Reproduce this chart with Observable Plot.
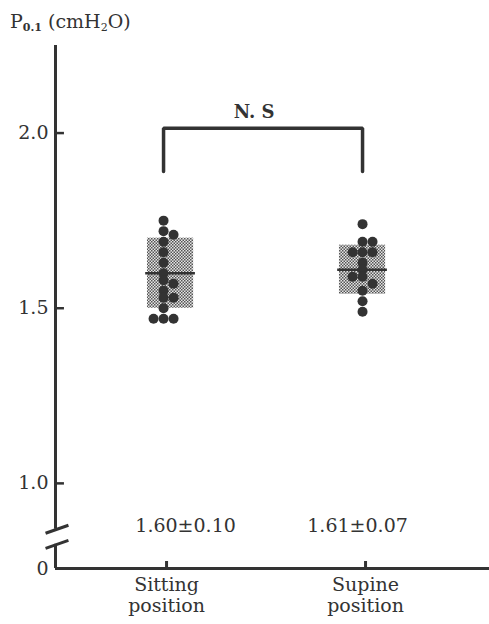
<!DOCTYPE html>
<html>
<head>
<meta charset="utf-8">
<script src="https://cdn.jsdelivr.net/npm/d3@7"></script>
<script src="https://cdn.jsdelivr.net/npm/@observablehq/plot@0.6"></script>
<style>
  html, body { margin: 0; padding: 0; background: white; }
  #wrap { position: relative; width: 489px; height: 624px; }
  #title { position: absolute; left: 10px; top: 12px; font-family: "DejaVu Serif", serif; font-size: 19px; line-height: 1; color: #333; white-space: nowrap; }
  #title .sub { font-size: 11px; vertical-align: -3px; }
  #chart { position: absolute; left: 0; top: 40px; }
</style>
</head>
<body>
<div id="wrap">
  <div id="title">P<span class="sub" style="font-weight:bold">0.1</span> (cmH<span class="sub">2</span>O)</div>
  <div id="chart"></div>
</div>
<script>
// ---- data ----
const categories = ["Sitting\nposition", "Supine\nposition"];
const means = [1.60, 1.61];
const sds = [0.10, 0.07];

const sittingValues = [1.75, 1.72, 1.71, 1.69, 1.66, 1.63, 1.60, 1.58, 1.57, 1.55, 1.53, 1.53, 1.50, 1.47, 1.47, 1.47];
const sittingCols   = [0,    0,    1,    0,    0,    0,    0,    0,    1,    0,    0,    1,    0,    0,    1,    -1];
const supineValues  = [1.74, 1.69, 1.69, 1.66, 1.66, 1.66, 1.63, 1.61, 1.59, 1.59, 1.57, 1.55, 1.52, 1.49];
const supineCols    = [0,    0,    1,    -1,   0,    1,    0,    0,    -1,   0,    1,    0,    0,    0];

const yTicks = [1.0, 1.5, 2.0];
const yZero = 0.757;          // where the broken axis shows "0"
const yTop = 2.25;
const breakSlashes = [0.869, 0.826];
const bracket = {low: 1.89, high: 2.014, label: "N. S", labelY: 2.06};
const statsY = 0.88;

// ---- tables ----
const groups = categories.map((c, i) => ({i, mean: means[i], sd: sds[i], label: `${means[i].toFixed(2)}±${sds[i].toFixed(2)}`}));
const dots = [
  ...sittingValues.map((v, k) => ({g: 0, v, col: sittingCols[k]})),
  ...supineValues.map((v, k) => ({g: 1, v, col: supineCols[k]}))
];
const bracketPts = [
  {x: 0, y: bracket.low}, {x: 0, y: bracket.high},
  {x: 1, y: bracket.high}, {x: 1, y: bracket.low}
];

const xMin = -0.543, xMax = 1.638;
const boxHalf = 0.116, meanHalf = 0.125;
const boxShift = [7, 0];
const ink = "#333";

const boxMarks = groups.flatMap((g, k) => [
  Plot.rect([g], {x1: d => d.i - boxHalf, x2: d => d.i + boxHalf, y1: d => d.mean - d.sd, y2: d => d.mean + d.sd, fill: "url(#stipple)", dx: boxShift[k]}),
  Plot.ruleY([g], {y: "mean", x1: d => d.i - meanHalf, x2: d => d.i + meanHalf, stroke: ink, strokeWidth: 2.5, dx: boxShift[k]})
]);

const plot = Plot.plot({
  width: 489,
  height: 584,
  marginTop: 5,
  marginLeft: 55,
  marginRight: 0,
  marginBottom: 56,
  x: {type: "linear", domain: [xMin, xMax]},
  y: {domain: [yZero, yTop]},
  style: {fontFamily: "DejaVu Serif, serif", color: ink, background: "white", overflow: "visible"},
  marks: [
    // SD boxes and mean lines
    ...boxMarks,
    // individual points
    ...[-1, 0, 1].map(c => Plot.dot(dots.filter(d => d.col === c), {x: "g", y: "v", r: 5, fill: ink, stroke: "none", dx: c * 10})),
    // significance bracket
    Plot.line(bracketPts, {x: "x", y: "y", stroke: ink, strokeWidth: 3.5, strokeLinejoin: "miter"}),
    Plot.text([bracket.label], {x: 0.5, y: bracket.labelY, text: d => d, fontSize: 18, fontWeight: "bold", dx: -9, fill: ink}),
    // mean ± SD labels
    Plot.text([groups[0]], {x: "i", y: statsY, text: "label", fontSize: 19, dx: 22, fill: ink}),
    Plot.text([groups[1]], {x: "i", y: statsY, text: "label", fontSize: 19, dx: -5, fill: ink}),
    // broken y axis line
    Plot.ruleX([xMin], {y1: breakSlashes[0], y2: yTop, stroke: ink, strokeWidth: 3}),
    Plot.ruleX([xMin], {y1: yZero, y2: breakSlashes[1], stroke: ink, strokeWidth: 3}),
    Plot.link(breakSlashes, {x1: xMin - 0.05, x2: xMin + 0.065, y1: d => d - 0.0114, y2: d => d + 0.0114, stroke: ink, strokeWidth: 3}),
    // y ticks (inward)
    Plot.ruleY(yTicks, {x1: xMin, x2: xMin + 0.045, stroke: ink, strokeWidth: 2.5}),
    // x axis line and inward ticks
    Plot.ruleY([yZero], {stroke: ink, strokeWidth: 3}),
    Plot.ruleX([0, 1], {y1: yZero, y2: yZero + 0.02, stroke: ink, strokeWidth: 3, dx: 3}),
    // axis labels
    Plot.axisY({ticks: [yZero, ...yTicks], tickFormat: d => d === yZero ? "0" : d.toFixed(1), tickSize: 0, tickPadding: 7, fontSize: 19, label: null}),
    Plot.axisX({ticks: [0, 1], tickFormat: i => categories[i], tickSize: 0, tickPadding: 8, fontSize: 19, lineHeight: 1.1, label: null, dx: 3})
  ]
});

// stippled halftone pattern for the SD boxes
const defs = d3.select(plot).insert("defs", ":first-child");
const pat = defs.append("pattern").attr("id", "stipple").attr("patternUnits", "userSpaceOnUse").attr("width", 3).attr("height", 3);
pat.append("rect").attr("width", 3).attr("height", 3).attr("fill", "#e6e6e6");
pat.append("rect").attr("x", 0).attr("y", 0).attr("width", 1.5).attr("height", 1.5).attr("fill", "#555");
pat.append("rect").attr("x", 1.5).attr("y", 1.5).attr("width", 1.5).attr("height", 1.5).attr("fill", "#555");

document.getElementById("chart").appendChild(plot);
</script>
</body>
</html>
